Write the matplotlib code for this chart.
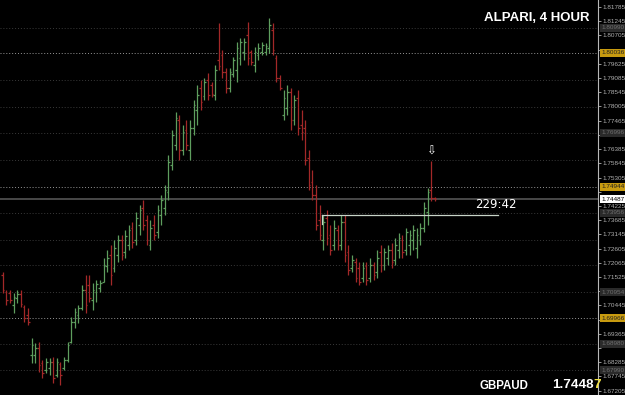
import numpy as np
import matplotlib
matplotlib.use("Agg")
import matplotlib.pyplot as plt

# GBPAUD, 4 hour bars
highs = [
    1.7171, 1.7103, 1.7103, 1.7092, 1.7103, 1.7103, 1.7046, 1.7035, 1.6921, 1.6902,
    1.6905, 1.6837, 1.6845, 1.6845, 1.6848, 1.6845, 1.6829, 1.6848, 1.6905, 1.7000,
    1.7035, 1.7046, 1.7122, 1.7160, 1.7160, 1.7130, 1.7141, 1.7141, 1.7225, 1.7255,
    1.7274, 1.7293, 1.7312, 1.7312, 1.7331, 1.7350, 1.7361, 1.7399, 1.7426, 1.7445,
    1.7388, 1.7369, 1.7388, 1.7426, 1.7464, 1.7502, 1.7616, 1.7711, 1.7779, 1.7768,
    1.7730, 1.7749, 1.7749, 1.7825, 1.7882, 1.7901, 1.7909, 1.7928, 1.7893, 1.7958,
    1.8118, 1.8015, 1.7947, 1.7947, 1.7988, 1.8045, 1.8061, 1.8061, 1.8121, 1.8015,
    1.8026, 1.8042, 1.8045, 1.8042, 1.8137, 1.8118, 1.7996, 1.7920, 1.7863, 1.7882,
    1.7871, 1.7844, 1.7863, 1.7787, 1.7749, 1.7635, 1.7559, 1.7502, 1.7426, 1.7388,
    1.7407, 1.7350, 1.7369, 1.7350, 1.7388, 1.7388, 1.7274, 1.7236, 1.7225, 1.7209,
    1.7209, 1.7209, 1.7225, 1.7209, 1.7255, 1.7274, 1.7263, 1.7274, 1.7282, 1.7301,
    1.7320, 1.7312, 1.7339, 1.7331, 1.7350, 1.7339, 1.7358, 1.7437, 1.7491, 1.7593,
    1.7456]
lows = [
    1.7092, 1.7046, 1.7054, 1.7016, 1.7054, 1.7038, 1.6981, 1.6970, 1.6826, 1.6826,
    1.6791, 1.6769, 1.6788, 1.6780, 1.6750, 1.6772, 1.6742, 1.6799, 1.6829, 1.6902,
    1.6959, 1.6978, 1.7027, 1.7016, 1.7057, 1.7027, 1.7057, 1.7095, 1.7133, 1.7171,
    1.7122, 1.7171, 1.7209, 1.7217, 1.7225, 1.7255, 1.7263, 1.7274, 1.7312, 1.7331,
    1.7274, 1.7255, 1.7293, 1.7301, 1.7350, 1.7388, 1.7445, 1.7559, 1.7635, 1.7597,
    1.7616, 1.7635, 1.7597, 1.7692, 1.7730, 1.7787, 1.7825, 1.7825, 1.7836, 1.7825,
    1.7939, 1.7909, 1.7852, 1.7855, 1.7912, 1.7893, 1.7958, 1.7977, 1.7958, 1.7958,
    1.7931, 1.7977, 1.7996, 1.7996, 1.8004, 1.7996, 1.7893, 1.7863, 1.7749, 1.7768,
    1.7711, 1.7730, 1.7692, 1.7673, 1.7578, 1.7483, 1.7445, 1.7331, 1.7293, 1.7255,
    1.7274, 1.7236, 1.7255, 1.7255, 1.7255, 1.7209, 1.7160, 1.7171, 1.7133, 1.7122,
    1.7133, 1.7122, 1.7133, 1.7141, 1.7149, 1.7171, 1.7179, 1.7198, 1.7187, 1.7198,
    1.7225, 1.7225, 1.7236, 1.7236, 1.7255, 1.7225, 1.7274, 1.7323, 1.7350, 1.7441,
    1.7440]
opens = [
    1.7160, 1.7095, 1.7092, 1.7046, 1.7073, 1.7088, 1.7038, 1.7008, 1.6856, 1.6856,
    1.6883, 1.6826, 1.6799, 1.6807, 1.6829, 1.6780, 1.6822, 1.6807, 1.6837, 1.6905,
    1.6981, 1.7008, 1.7035, 1.7103, 1.7122, 1.7065, 1.7095, 1.7111, 1.7133, 1.7194,
    1.7236, 1.7187, 1.7236, 1.7293, 1.7247, 1.7274, 1.7339, 1.7293, 1.7350, 1.7415,
    1.7369, 1.7274, 1.7350, 1.7323, 1.7388, 1.7415, 1.7475, 1.7578, 1.7654, 1.7749,
    1.7635, 1.7711, 1.7635, 1.7719, 1.7787, 1.7871, 1.7840, 1.7901, 1.7882, 1.7844,
    1.7977, 1.7996, 1.7931, 1.7871, 1.7924, 1.7939, 1.7985, 1.8007, 1.8072, 1.8007,
    1.7958, 1.7996, 1.8007, 1.8007, 1.8023, 1.8091, 1.7985, 1.7909, 1.7768, 1.7795,
    1.7855, 1.7749, 1.7833, 1.7730, 1.7719, 1.7605, 1.7513, 1.7464, 1.7369, 1.7293,
    1.7377, 1.7312, 1.7274, 1.7331, 1.7274, 1.7361, 1.7247, 1.7187, 1.7209, 1.7187,
    1.7149, 1.7194, 1.7149, 1.7198, 1.7171, 1.7247, 1.7198, 1.7225, 1.7255, 1.7217,
    1.7255, 1.7293, 1.7255, 1.7274, 1.7293, 1.7263, 1.7293, 1.7339, 1.7399, 1.7483,
    1.7453]
closes = [
    1.7103, 1.7065, 1.7065, 1.7076, 1.7088, 1.7050, 1.6997, 1.6981, 1.6894, 1.6883,
    1.6818, 1.6788, 1.6829, 1.6829, 1.6769, 1.6829, 1.6780, 1.6837, 1.6894, 1.6981,
    1.7019, 1.7035, 1.7103, 1.7046, 1.7073, 1.7103, 1.7126, 1.7130, 1.7198, 1.7225,
    1.7160, 1.7263, 1.7293, 1.7236, 1.7308, 1.7331, 1.7285, 1.7377, 1.7407, 1.7350,
    1.7293, 1.7339, 1.7312, 1.7407, 1.7445, 1.7483, 1.7589, 1.7692, 1.7757, 1.7635,
    1.7703, 1.7654, 1.7719, 1.7806, 1.7844, 1.7817, 1.7893, 1.7844, 1.7848, 1.7939,
    1.7954, 1.7931, 1.7871, 1.7931, 1.7977, 1.8023, 1.8045, 1.8045, 1.7985, 1.7969,
    1.8007, 1.8023, 1.8034, 1.8030, 1.8110, 1.8015, 1.7909, 1.7871, 1.7833, 1.7855,
    1.7749, 1.7825, 1.7719, 1.7703, 1.7597, 1.7502, 1.7464, 1.7350, 1.7312, 1.7361,
    1.7301, 1.7255, 1.7339, 1.7274, 1.7361, 1.7236, 1.7179, 1.7217, 1.7149, 1.7133,
    1.7187, 1.7141, 1.7198, 1.7160, 1.7225, 1.7198, 1.7247, 1.7255, 1.7209, 1.7274,
    1.7301, 1.7247, 1.7323, 1.7312, 1.7331, 1.7312, 1.7339, 1.7415, 1.7475, 1.7453,
    1.74487]

price_labels = [1.81785, 1.81245, 1.80705, 1.80165, 1.79625, 1.79085, 1.78545,
                1.78005, 1.77465, 1.76925, 1.76385, 1.75845, 1.75305, 1.74765,
                1.74225, 1.73685, 1.73145, 1.72605, 1.72065, 1.71525, 1.70985,
                1.70445, 1.69905, 1.69365, 1.68825, 1.68285, 1.67745, 1.67205]
grid_levels = [1.8099, 1.7901, 1.7798, 1.7700, 1.7597, 1.7396, 1.7293,
               1.7198, 1.7095, 1.6898, 1.6799]
hlines_levels = [1.80036, 1.74944, 1.69966]
dark_labels = [1.80990, 1.76996, 1.73956, 1.70954, 1.68980, 1.67990]
bid = 1.74487
box_level = 1.7388
timer = "229:42"

up_col = "#5e9e5e"
dn_col = "#a32828"
bg = "black"

fig = plt.figure(figsize=(6.25, 3.95), dpi=100, facecolor=bg)
ax = fig.add_axes([0, 0, 598 / 625, 1])
ax.set_facecolor(bg)

x = np.arange(len(closes))
o = np.array(opens)
c = np.array(closes)
cols = np.where(c >= o, up_col, dn_col)

# grid and horizontal levels
for lv in grid_levels:
    ax.axhline(lv, color="#3a3a3a", lw=0.7, ls=(0, (1, 2)), zorder=1)
for lv in hlines_levels:
    ax.axhline(lv, color="#969696", lw=0.7, ls=(0, (1, 2)), zorder=1)
ax.axhline(bid, color="#484848", lw=1.4, zorder=1)

# OHLC bars
ax.vlines(x, lows, highs, colors=cols, lw=0.9, zorder=3)
ax.hlines(o, x - 0.45, x, colors=cols, lw=0.9, zorder=3)
ax.hlines(c, x, x + 0.45, colors=cols, lw=0.9, zorder=3)

# box line from the low swing
ax.plot([88.7, 137.6], [box_level, box_level], color="#c8d4c8", lw=0.9, zorder=4)
ax.plot([88.7, 88.7], [box_level, 1.7355], color="#c8d4c8", lw=0.9, zorder=4)

ax.text(131.2, 1.7427, timer, color="white", fontsize=8.5, va="center",
        ha="left", family="DejaVu Sans")
ax.text(len(closes) - 2, 1.7630, "\u21e9", color="white", fontsize=8.5,
        ha="center", va="center", family="DejaVu Sans")

ax.set_xlim(-0.75, 165.36)
ax.set_ylim(1.6704, 1.8205)
ax.set_xticks([])
for s in ["left", "top", "bottom"]:
    ax.spines[s].set_visible(False)
ax.spines["right"].set_color("#b8b8b8")
ax.spines["right"].set_linewidth(0.8)

# price scale; labels hidden under the level boxes are left blank
boxed = hlines_levels + dark_labels + [bid]
ax.yaxis.tick_right()
ax.set_yticks(price_labels)
ax.set_yticklabels(["" if min(abs(p - b) for b in boxed) < 0.0019 else "{:.5f}".format(p)
                    for p in price_labels])
ax.tick_params(axis="y", colors="#b0b0b0", labelsize=4.6, length=2, width=0.6, pad=1)
for lab in ax.get_yticklabels():
    lab.set_family("Liberation Sans")

ytr = ax.get_yaxis_transform()
for lv in dark_labels:
    ax.text(1.006, lv, "{:.5f}".format(lv), transform=ytr, fontsize=4.6,
            family="Liberation Sans", color="#707070", va="center", ha="left",
            bbox=dict(boxstyle="square,pad=0.2", fc="#2a2a2a", ec="none"), clip_on=False)
for lv in hlines_levels:
    ax.text(1.006, lv, "{:.5f}".format(lv), transform=ytr, fontsize=4.6,
            family="Liberation Sans", color="#202020", va="center", ha="left",
            bbox=dict(boxstyle="square,pad=0.2", fc="#c89b10", ec="none"), clip_on=False)
ax.text(1.006, bid, "{:.5f}".format(bid), transform=ytr, fontsize=4.6,
        family="Liberation Sans", color="black", va="center", ha="left",
        bbox=dict(boxstyle="square,pad=0.2", fc="white", ec="none"), clip_on=False)

# header and footer
fig.text(590 / 625, 1 - 18 / 395, "ALPARI, 4 HOUR", color="white", fontsize=9.5,
         fontweight="bold", family="Liberation Sans", ha="right", va="center")
fig.text(480 / 625, 1 - 386 / 395, "GBPAUD", color="white", fontsize=8.3,
         fontweight="bold", family="Liberation Sans", ha="left", va="center")
t1 = fig.text(552 / 625, 1 - 385 / 395, "{:.5f}".format(bid)[:-1], color="white",
              fontsize=9.7, fontweight="bold", family="Liberation Sans",
              ha="left", va="center")
fig.canvas.draw()
bb = t1.get_window_extent()
fig.text(bb.x1 / fig.bbox.width, 1 - 385 / 395, "{:.5f}".format(bid)[-1],
         color="#f0e040", fontsize=9.7, fontweight="bold", family="Liberation Sans",
         ha="left", va="center")

fig.savefig("out.png", dpi=100, facecolor=bg)
